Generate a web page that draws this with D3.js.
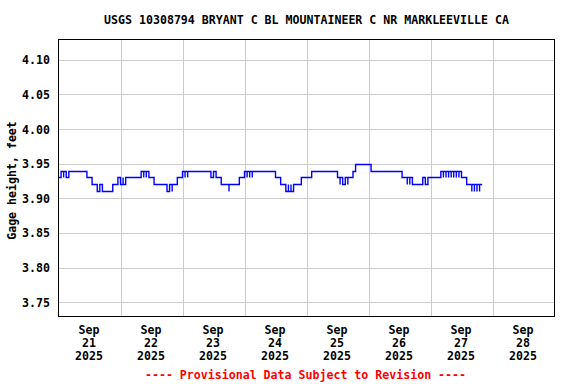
<!DOCTYPE html>
<html lang="en">
<head>
    <meta charset="UTF-8">
    <title>USGS 10308794 gage height</title>
    <script src="https://cdn.jsdelivr.net/npm/d3@7"></script>
    <style>
        body {
            margin: 0;
            background-color: #fff;
        }

        text {
            font-family: "DejaVu Sans Mono", "Liberation Mono", monospace;
            font-size: 11.6px;
            font-weight: bold;
        }

        .grid line {
            stroke: #cccccc;
            stroke-width: 1;
            shape-rendering: crispEdges;
        }
    </style>
</head>
<body>
    <script>
        // step values: [hour of the day, gage height in feet]
        const sep21 = [[0, 3.93], [1.7, 3.94], [2.0, 3.93], [2.5, 3.94], [3.0, 3.93], [3.25, 3.94], [3.75, 3.93], [4.25, 3.94],
            [11.4, 3.93], [13.0, 3.92], [15.7, 3.91], [16.0, 3.92], [16.25, 3.91], [16.75, 3.92], [17.0, 3.91],
            [21.5, 3.92], [23.75, 3.93]];
        const sep22 = [[0, 3.92], [0.25, 3.93], [0.75, 3.92], [1.25, 3.93], [1.5, 3.92], [2.0, 3.93],
            [8.7, 3.94], [9.0, 3.93], [9.5, 3.94], [10.25, 3.93], [10.75, 3.94], [11.25, 3.93], [11.5, 3.94], [11.9, 3.93],
            [13.5, 3.92], [18.3, 3.91], [18.6, 3.92], [18.9, 3.91], [19.8, 3.92], [20.0, 3.91], [20.3, 3.92], [22.1, 3.93]];
        const sep23 = [[0, 3.93], [0.9, 3.94], [1.2, 3.93], [1.6, 3.94], [2.0, 3.93], [2.3, 3.94],
            [11.8, 3.93], [12.1, 3.94], [12.5, 3.93], [12.9, 3.94], [13.2, 3.93],
            [15.7, 3.92], [18.3, 3.91], [18.9, 3.92], [22.8, 3.93]];
        const sep24 = [[0, 3.93], [0.7, 3.94], [1.0, 3.93], [1.5, 3.94], [2.0, 3.93], [2.5, 3.94], [3.0, 3.93], [3.3, 3.94],
            [12.4, 3.93], [14.3, 3.92], [16.8, 3.91], [17.1, 3.92], [17.4, 3.91], [18.4, 3.92], [18.7, 3.91], [19.4, 3.92],
            [22.7, 3.93]];
        const sep25 = [[0, 3.93], [2.1, 3.94], [12.4, 3.93], [13.6, 3.92], [13.9, 3.93], [14.2, 3.92], [15.8, 3.93],
            [16.0, 3.92], [16.2, 3.93], [18.2, 3.94], [19.7, 3.95]];
        const sep26 = [[0, 3.95], [1.3, 3.94], [13.8, 3.93], [15.5, 3.92], [15.8, 3.93], [16.3, 3.92], [16.6, 3.93],
            [17.0, 3.92], [21.1, 3.93], [21.4, 3.92], [21.9, 3.93], [22.2, 3.92], [23.2, 3.93]];
        const sep27 = [[0, 3.93], [4.9, 3.94], [5.3, 3.93], [5.7, 3.94], [6.1, 3.93], [6.6, 3.94], [7.0, 3.93], [7.5, 3.94],
            [8.2, 3.93], [8.6, 3.94], [9.4, 3.93], [9.8, 3.94], [10.5, 3.93], [10.8, 3.94], [11.3, 3.93], [11.6, 3.94],
            [12.0, 3.93], [14.2, 3.92], [16.5, 3.91], [16.8, 3.92], [17.0, 3.91], [17.8, 3.92], [18.0, 3.91],
            [18.7, 3.92], [19.0, 3.91], [19.1, 3.92], [20.1, 3.92]];

        const dayData = [sep21, sep22, sep23, sep24, sep25, sep26, sep27];
        const dayStart = new Date(2025, 8, 21);
        const dayLabels = ['21', '22', '23', '24', '25', '26', '27', '28'];
        const yTicks = [3.75, 3.80, 3.85, 3.90, 3.95, 4.00, 4.05, 4.10];

        const w = 576;
        const h = 384;
        const plotLeft = 58, plotRight = 555, plotTop = 39, plotBottom = 316;

        const series = [];
        dayData.forEach((day, i) => {
            day.forEach(([hr, v]) => {
                series.push({ t: d3.timeHour.offset(dayStart, i * 24 + hr), v: v });
            });
        });

        const xScale = d3.scaleTime([dayStart, d3.timeDay.offset(dayStart, 8)], [plotLeft + 0.5, plotRight - 0.5]);
        const yScale = d3.scaleLinear([3.73, 4.13], [plotBottom, plotTop]);

        const svg = d3.select('body')
            .append('svg')
            .attr('width', w)
            .attr('height', h);

        // grid
        const grid = svg.append('g').attr('class', 'grid');
        const midnights = d3.range(1, 8).map(i => d3.timeDay.offset(dayStart, i));
        grid.selectAll('.vx')
            .data(midnights)
            .enter()
            .append('line')
            .attr('x1', d => Math.round(xScale(d)) + 0.5)
            .attr('x2', d => Math.round(xScale(d)) + 0.5)
            .attr('y1', plotTop)
            .attr('y2', plotBottom);
        grid.selectAll('.hy')
            .data(yTicks)
            .enter()
            .append('line')
            .attr('x1', plotLeft)
            .attr('x2', plotRight)
            .attr('y1', d => Math.round(yScale(d)) + 0.5)
            .attr('y2', d => Math.round(yScale(d)) + 0.5);

        // line
        const line = d3.line()
            .x(d => xScale(d.t))
            .y(d => Math.round(yScale(d.v)) + 0.5)
            .curve(d3.curveStepAfter);

        svg.append('path')
            .datum(series)
            .attr('fill', 'none')
            .attr('stroke', '#0000ff')
            .attr('stroke-width', 1.4)
            .attr('d', line);

        // frame
        svg.append('rect')
            .attr('x', plotLeft + 0.5)
            .attr('y', plotTop + 0.5)
            .attr('width', plotRight - plotLeft - 1)
            .attr('height', plotBottom - plotTop)
            .attr('fill', 'none')
            .attr('stroke', '#000')
            .attr('shape-rendering', 'crispEdges');

        // y axis labels
        const yAxis = d3.axisLeft(yScale)
            .tickValues(yTicks)
            .tickSize(0)
            .tickPadding(8)
            .tickFormat(d3.format('.2f'));
        const yg = svg.append('g')
            .attr('transform', `translate(${plotLeft}, 0)`)
            .call(yAxis);
        yg.select('.domain').remove();
        yg.selectAll('text')
            .attr('fill', '#000')
            .attr('dy', '0.35em');

        // x axis labels at noon
        const noons = d3.range(0, 8).map(i => d3.timeHour.offset(dayStart, i * 24 + 12));
        const xAxis = d3.axisBottom(xScale)
            .tickValues(noons)
            .tickSize(0)
            .tickFormat('');
        const xg = svg.append('g')
            .attr('transform', `translate(0, ${plotBottom})`)
            .call(xAxis);
        xg.select('.domain').remove();
        xg.selectAll('.tick').each(function (d, i) {
            const t = d3.select(this).select('text')
                .attr('fill', '#000')
                .attr('y', 0)
                .attr('dy', 0);
            t.append('tspan').attr('x', -1).attr('y', 18).text('Sep');
            t.append('tspan').attr('x', -1).attr('y', 31).text(dayLabels[i]);
            t.append('tspan').attr('x', -1).attr('y', 44).text('2025');
        });

        // title
        svg.append('text')
            .attr('x', (plotLeft + plotRight) / 2)
            .attr('y', 24)
            .attr('text-anchor', 'middle')
            .text('USGS 10308794 BRYANT C BL MOUNTAINEER C NR MARKLEEVILLE CA');

        // y label
        svg.append('text')
            .attr('transform', `translate(16, ${(plotTop + plotBottom) / 2 + 3}) rotate(-90)`)
            .attr('text-anchor', 'middle')
            .text('Gage height, feet');

        // footer
        svg.append('text')
            .attr('x', (plotLeft + plotRight) / 2 - 1)
            .attr('y', 379)
            .attr('text-anchor', 'middle')
            .attr('fill', '#ff0000')
            .text('---- Provisional Data Subject to Revision ----');
    </script>
</body>
</html>
